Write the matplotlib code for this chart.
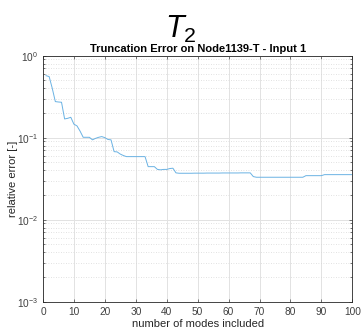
import numpy as np
import matplotlib
matplotlib.use('Agg')
import matplotlib.pyplot as plt
from matplotlib.ticker import LogLocator, NullFormatter

plt.rcParams['font.family'] = ['Liberation Sans', 'DejaVu Sans']
plt.rcParams['mathtext.fontset'] = 'custom'
plt.rcParams['mathtext.rm'] = 'Liberation Sans'
plt.rcParams['mathtext.it'] = 'Liberation Sans:italic'

# relative truncation error per number of modes
modes = np.arange(1, 101)
rel_error = [
    0.570, 0.555, 0.400, 0.275, 0.272, 0.270, 0.169, 0.172, 0.177, 0.146,
    0.139, 0.120, 0.101, 0.101, 0.101, 0.094, 0.098, 0.101, 0.103, 0.100,
    0.095, 0.094, 0.0675, 0.067, 0.063, 0.0605, 0.0587, 0.0587, 0.0587, 0.0587,
    0.0587, 0.0587, 0.0587, 0.0443, 0.0443, 0.0443, 0.0410, 0.0405, 0.0410, 0.0410,
    0.0420, 0.0424, 0.0372, 0.0368, 0.0368, 0.0368, 0.0368, 0.0368, 0.0369, 0.0369,
    0.0369, 0.0369, 0.0370, 0.0370, 0.0370, 0.0370, 0.0370, 0.0371, 0.0371, 0.0371,
    0.0371, 0.0371, 0.0371, 0.0372, 0.0372, 0.0372, 0.0372, 0.0335, 0.0329, 0.0329,
    0.0329, 0.0329, 0.0329, 0.0329, 0.0329, 0.0329, 0.0329, 0.0329, 0.0329, 0.0329,
    0.0329, 0.0329, 0.0329, 0.0329, 0.0344, 0.0344, 0.0344, 0.0344, 0.0344, 0.0344,
    0.0354, 0.0354, 0.0354, 0.0354, 0.0354, 0.0354, 0.0354, 0.0354, 0.0354, 0.0354,
]
x_ticks = np.arange(0, 101, 10)

fig = plt.figure(figsize=(3.61, 3.31), dpi=100)
ax = fig.add_axes([0.119, 0.0885, 0.857, 0.7435])

ax.semilogy(modes, rel_error, color='#6ab2e3', lw=0.7)
ax.set_xlim(0, 100)
ax.set_ylim(1e-3, 1)
ax.set_xticks(x_ticks)

ax.yaxis.set_minor_locator(LogLocator(base=10, subs=np.arange(2, 10)))
ax.yaxis.set_minor_formatter(NullFormatter())
ax.grid(True, which='major', color='#e2e2e2', lw=0.7)
ax.grid(True, which='minor', axis='y', color='#d8d8d8', lw=0.6, ls=(0, (1, 2)))
ax.set_axisbelow(True)

ax.tick_params(which='both', direction='in', top=True, right=True,
               labelsize=7.3, colors='#404040', length=2.5, width=0.5)
ax.tick_params(which='minor', length=1.5)
for s in ax.spines.values():
    s.set_color('#262626')
    s.set_linewidth(0.6)

ax.set_title('Truncation Error on Node1139-T - Input 1', fontsize=8,
             fontweight='bold', pad=2.5)
ax.set_xlabel('number of modes included', fontsize=8, labelpad=2, color='#262626')
ax.set_ylabel('relative error [-]', fontsize=8, labelpad=-1, color='#262626')

fig.text(0.5, 0.912, r'$T_2$', fontsize=22, ha='center', va='center')

fig.savefig('out.png', dpi=100)
